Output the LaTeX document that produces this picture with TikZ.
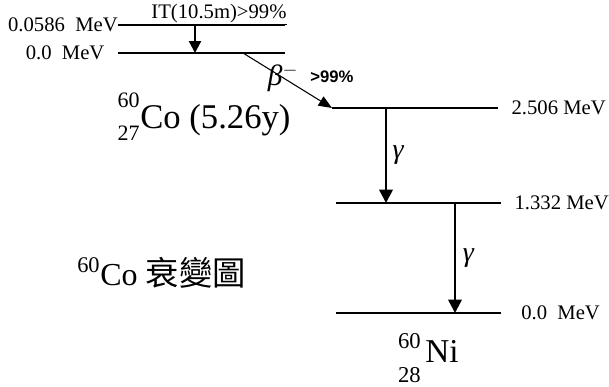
\documentclass[tikz,border=0pt]{standalone}
\usepackage{fontspec}
\setmainfont{Liberation Serif}
\newfontfamily\cjk{Noto Sans CJK TC}
\newfontfamily\arial{Liberation Sans}
\usetikzlibrary{arrows.meta,positioning}

\begin{document}
\begin{tikzpicture}[x=0.75pt,y=-0.75pt,
  level/.style={line width=1pt},
  itline/.style={line width=1.7pt,-{Triangle[width=9pt,length=9pt]}},
  bline/.style={line width=0.8pt,-{Triangle[width=8pt,length=10pt]}},
  gline/.style={line width=1.8pt,-{Triangle[width=10pt,length=10pt]}},
  elabel/.style={font=\fontsize{15.5}{18}\selectfont,inner sep=0pt},
  glabel/.style={font=\fontsize{21}{23}\selectfont\itshape,inner sep=0pt}]
\useasboundingbox (0,0) rectangle (609,386);
% levels of 60Co
\coordinate (A1) at (118,25); \coordinate (A2) at (285,25);
\coordinate (B1) at (118,53); \coordinate (B2) at (285,53);
% levels of 60Ni
\coordinate (C1) at (332,108); \coordinate (C2) at (498,108);
\coordinate (D1) at (336,203); \coordinate (D2) at (501,203);
\coordinate (E1) at (336,313); \coordinate (E2) at (501,313);
\draw[level] (A1)--(A2); \draw[level] (B1)--(B2);
\draw[level] (C1)--(C2); \draw[level] (D1)--(D2); \draw[level] (E1)--(E2);
% energies
\node[elabel,left=0pt of A1] (la) {0.0586\ \ MeV};
\node[elabel,left=10pt of B1] (lb) {0.0\ \ MeV};
\node[elabel,right=10pt of C2] (lc) {2.506 MeV};
\node[elabel,right=10pt of D2] (ld) {1.332 MeV};
\node[elabel,right=15pt of E2] (le) {0.0\ \ MeV};
% transitions
\coordinate (ITa) at (195,25); \coordinate (ITb) at (195,53);
\draw[itline] (ITa)--(ITb);
\node[elabel,anchor=base] (it) at (219,18) {\underline{IT(10.5m)>99\%}};
\coordinate (Bs) at (243,53);
\draw[bline] (Bs)--(C1);
\node[font=\fontsize{22}{24}\selectfont,inner sep=0pt] (beta) at (283,78) {\itshape β$^{-}$};
\node[font=\fontsize{12.5}{14}\selectfont\arial\bfseries,inner sep=0pt] (bpct) at (332,77) {>99\%};
\coordinate (G1a) at (386,108); \coordinate (G1b) at (386,203);
\coordinate (G2a) at (455,203); \coordinate (G2b) at (455,313);
\draw[gline] (G1a)--(G1b) node[glabel,midway,right=4pt] (g1) {γ};
\draw[gline] (G2a)--(G2b) node[glabel,midway,right=5pt] (g2) {γ};
% nuclides
\node[font=\fontsize{26}{28}\selectfont,inner sep=0pt,anchor=base west] (co) at (140,128) {Co (5.26y)};
\node[font=\fontsize{16.5}{18}\selectfont,inner sep=0pt,anchor=base east] (cosup) at (140,107) {60};
\node[font=\fontsize{16.5}{18}\selectfont,inner sep=0pt,anchor=base east] (cosub) at (140,140) {27};
\node[font=\fontsize{25}{27}\selectfont,inner sep=0pt,anchor=base west] (ni) at (425,362) {Ni};
\node[font=\fontsize{17}{19}\selectfont,inner sep=0pt,anchor=base east] (nisup) at (421,348) {60};
\node[font=\fontsize{17}{19}\selectfont,inner sep=0pt,anchor=base east] (nisub) at (421,382) {28};
\node[font=\fontsize{24}{26}\selectfont,inner sep=0pt,anchor=base west] (title) at (77,285) {\textsuperscript{60}Co {\cjk\fontsize{25}{27}\selectfont 衰變圖}};
\end{tikzpicture}
\end{document}
